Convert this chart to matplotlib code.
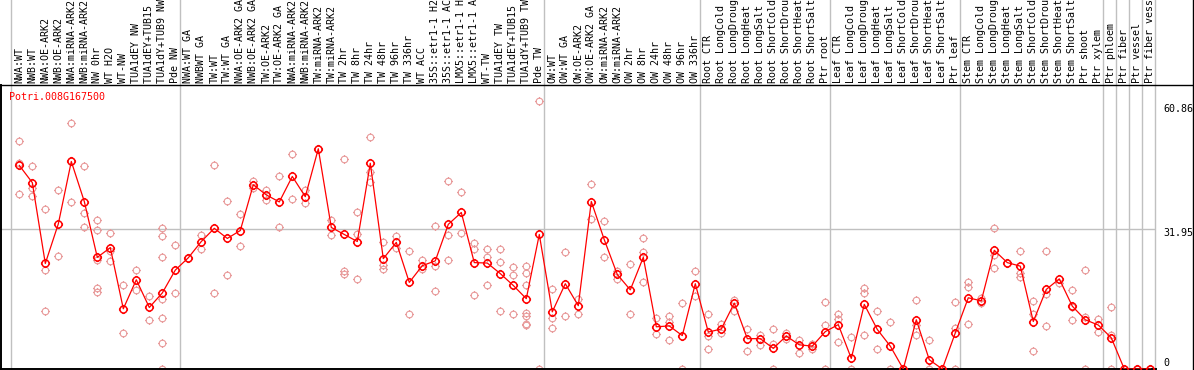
import matplotlib
matplotlib.use('Agg')
import matplotlib.pyplot as plt
from matplotlib.path import Path
from matplotlib.lines import Line2D
from matplotlib import transforms

# sample names (one per column)
labels = ['NWA:WT', 'NWB:WT', 'NWA:OE-ARK2', 'NWB:OE-ARK2', 'NWA:miRNA-ARK2', 'NWB:miRNA-ARK2',
          'NW 0hr', 'WT H2O', 'WT-NW', 'TUA1dEY NW', 'TUA1dEY+TUB15 NW', 'TUA1dY+TUB9 NW', 'Pde NW',
          'NWA:WT GA', 'NWBWT GA', 'TW:WT', 'TW:WT GA', 'NWA:OE-ARK2 GA', 'NWB:OE-ARK2 GA',
          'TW:OE-ARK2', 'TW:OE-ARK2 GA', 'NWA:miRNA-ARK2', 'NWB:miRNA-ARK2', 'TW:miRNA-ARK2',
          'TW:miRNA-ARK2', 'TW 2hr', 'TW 8hr', 'TW 24hr', 'TW 48hr', 'TW 96hr', 'TW 336hr', 'WT ACC',
          '35S::etr1-1 H2O', '35S::etr1-1 ACC', 'LMX5::etr1-1 H2O', 'LMX5::etr1-1 ACC', 'WT-TW',
          'TUA1dEY TW', 'TUA1dEY+TUB15 TW', 'TUA1dY+TUB9 TW', 'Pde TW',
          'OW:WT', 'OW:WT GA', 'OW:OE-ARK2', 'OW:OE-ARK2 GA', 'OW:miRNA-ARK2', 'OW:miRNA-ARK2',
          'OW 2hr', 'OW 8hr', 'OW 24hr', 'OW 48hr', 'OW 96hr', 'OW 336hr',
          'Root CTR', 'Root LongCold', 'Root LongDrought', 'Root LongHeat', 'Root LongSalt',
          'Root ShortCold', 'Root ShortDrought', 'Root ShortHeat', 'Root ShortSalt', 'Ptr root',
          'Leaf CTR', 'Leaf LongCold', 'Leaf LongDrought', 'Leaf LongHeat', 'Leaf LongSalt',
          'Leaf ShortCold', 'Leaf ShortDrought', 'Leaf ShortHeat', 'Leaf ShortSalt', 'Ptr leaf',
          'Stem CTR', 'Stem LongCold', 'Stem LongDrought', 'Stem LongHeat', 'Stem LongSalt',
          'Stem ShortCold', 'Stem ShortDrought', 'Stem ShortHeat', 'Stem ShortSalt', 'Ptr shoot',
          'Ptr xylem', 'Ptr phloem', 'Ptr fiber', 'Ptr vessel', 'Ptr fiber vessel']

means = [46.3, 42.4, 24.0, 33.0, 47.2, 38.1, 25.4, 27.6, 13.7, 20.3,
         14.0, 17.3, 22.5, 25.3, 29.0, 32.0, 29.7, 31.5, 41.9, 39.6,
         38.0, 43.8, 39.2, 50.1, 32.2, 30.6, 29.0, 46.8, 25.1, 28.8,
         19.7, 23.5, 24.6, 32.9, 35.6, 24.2, 24.1, 21.7, 19.0, 16.0,
         30.6, 13.0, 19.4, 14.4, 38.1, 29.4, 21.5, 18.0, 25.4, 9.6,
         9.8, 7.6, 19.4, 8.4, 9.1, 15.0, 6.9, 6.9, 4.7, 7.5,
         5.5, 5.2, 8.5, 10.1, 2.4, 14.7, 9.0, 5.2, 0.0, 11.2,
         2.1, 0.0, 8.2, 16.2, 15.5, 27.0, 24.2, 23.4, 10.8, 18.1,
         20.5, 14.3, 11.2, 10.0, 7.1, 0.0, 0.0, 0.0]

reps = [[51.9, 46.9, 39.9], [46.1, 41.2, 39.4], [36.3, 22.5, 13.3], [40.8, 25.6],
        [56.0, 47.4, 38.1], [46.1, 35.5, 32.4], [34.0, 31.7, 24.7, 18.4, 17.5],
        [31.0, 26.9, 24.6], [19.1, 8.2], [22.6, 18.0], [16.6, 11.2],
        [32.0, 30.3, 25.4, 15.9, 11.6, 5.9, 0.0], [28.2, 17.2], [25.3], [30.4, 27.3],
        [46.3, 17.4], [38.3, 21.3], [35.3, 27.9], [42.7, 41.2], [40.8, 38.5],
        [44.0, 32.2], [49.0, 38.6], [40.8, 37.8], [50.1], [33.8, 30.5],
        [47.7, 22.4, 21.6], [35.6, 30.6, 20.5], [52.7, 44.9, 42.5], [28.8, 23.6, 22.8],
        [30.2, 27.5], [26.9, 12.6], [24.7, 22.8], [32.6, 23.5, 17.8], [42.7, 30.5, 24.9],
        [40.2, 31.0], [28.6, 27.2, 16.9], [27.4, 25.4, 19.2], [27.2, 24.4, 13.3],
        [23.3, 21.3, 12.4], [23.4, 21.9, 19.1, 12.7, 12.1, 10.2, 9.9], [60.86, 0.0],
        [18.1, 11.7, 9.3], [26.7, 12.1], [16.0, 12.6], [42.1, 34.2], [33.6, 25.4],
        [22.4, 20.5], [23.8, 12.4], [29.9, 26.5, 19.9], [11.5, 8.0], [12.1, 10.6, 6.7],
        [14.9, 0.0], [22.4, 16.5], [12.6, 7.5, 4.6], [10.2, 8.2], [15.7, 13.3],
        [9.1, 4.2], [7.8, 5.5], [9.0, 5.7, 0.0], [8.2, 6.8], [6.7, 3.7], [4.6, 5.8],
        [15.3, 10.1, 0.0], [12.4, 11.4, 6.2], [7.3, 0.0], [18.5, 17.3, 7.8], [13.1, 4.5],
        [10.8, 0.0], [0.0], [15.7, 10.1, 7.7], [6.7, 0.0], [0.0], [15.3, 9.3, 0.0],
        [19.7, 18.7, 10.3], [16.1, 15.0], [32.1, 26.0, 23.0], [24.0], [26.9, 21.9, 20.9],
        [15.5, 12.5, 4.2], [26.9, 17.1, 9.8], [19.6], [18.0, 14.0, 11.2],
        [22.6, 11.8, 0.0], [11.3, 8.5], [14.0, 7.7, 0.0], [0.0], [0.0], [0.0]]

group_starts = [0, 13, 41, 53, 63, 73, 84, 85, 86, 87, 88]
ytick_vals = [60.86, 31.95, 0]
ytick_labels = ['60.86', '31.95', '0']
gene = 'Potri.008G167500'

W, H = 1194, 370
mono = 'DejaVu Sans Mono'
fs = 7.2

fig = plt.figure(figsize=(W / 100, H / 100), dpi=100)
# plot area: x 1..1156 px, y 85..369 px (from top)
ax = fig.add_axes([1 / W, (H - 369) / H, 1155 / W, 284 / H])
ax.set_xlim(-1.408, 87.44)
ax.set_ylim(0, 64.6)
ax.set_xticks([])
ax.set_yticks([])
for s in ['top', 'right']:
    ax.spines[s].set_visible(False)
ax.spines['left'].set_linewidth(1.4)
ax.spines['bottom'].set_linewidth(1.4)

# circle with four little ticks
circ = Path.unit_circle()
tk = Path([(0, 1), (0, 1.3), (0, -1), (0, -1.3), (1, 0), (1.3, 0), (-1, 0), (-1.3, 0)],
          [Path.MOVETO, Path.LINETO] * 4)
mk = Path.make_compound_path(circ, tk)

grey = '#c0c0c0'
for k in group_starts:
    ax.axvline(k - 0.63, ymin=0, ymax=369 / 284, color=grey, lw=1, clip_on=False, zorder=0)
ax.axhline(31.95, color=grey, lw=1, zorder=0)

xs = list(range(len(labels)))
for i, r in enumerate(reps):
    ax.plot([i] * len(r), r, ls='none', marker=mk, ms=6.2, mfc='none',
            mec='#e89a9a', mew=0.8, zorder=2, clip_on=True)
ax.plot(xs, means, color='red', lw=0.9, zorder=3)
ax.plot(xs, means, ls='none', marker=mk, ms=6.6, mfc='none', mec='red', mew=1.1, zorder=4)

# column labels above the plot
lab_tr = ax.get_xaxis_transform()
for i, lab in enumerate(labels):
    ax.text(i, 1.006, lab, rotation=90, ha='center', va='bottom', transform=lab_tr,
            family=mono, fontsize=fs, color='black', clip_on=False)

ax.text(8 / 1155, (369 - 100.5) / 284, gene, transform=ax.transAxes, ha='left',
        va='baseline', family=mono, fontsize=fs, color='red')

# y labels to the right of the plot
offs = [-7.7, -5.3, 2.4]
for v, t, o in zip(ytick_vals, ytick_labels, offs):
    tr = transforms.blended_transform_factory(fig.transFigure, ax.transData)
    tr = transforms.offset_copy(tr, fig=fig, y=o, units='points')
    ax.text(1163 / W, v, t, transform=tr, ha='left', va='baseline',
            family=mono, fontsize=fs, color='black', clip_on=False)

# frame lines
fig.add_artist(Line2D([0, 1], [(H - 85) / H] * 2, color='black', lw=1.0,
                      transform=fig.transFigure))
fig.add_artist(Line2D([1193 / W] * 2, [0, 1], color='black', lw=1.0,
                      transform=fig.transFigure))

fig.savefig('out.png', dpi=100)
